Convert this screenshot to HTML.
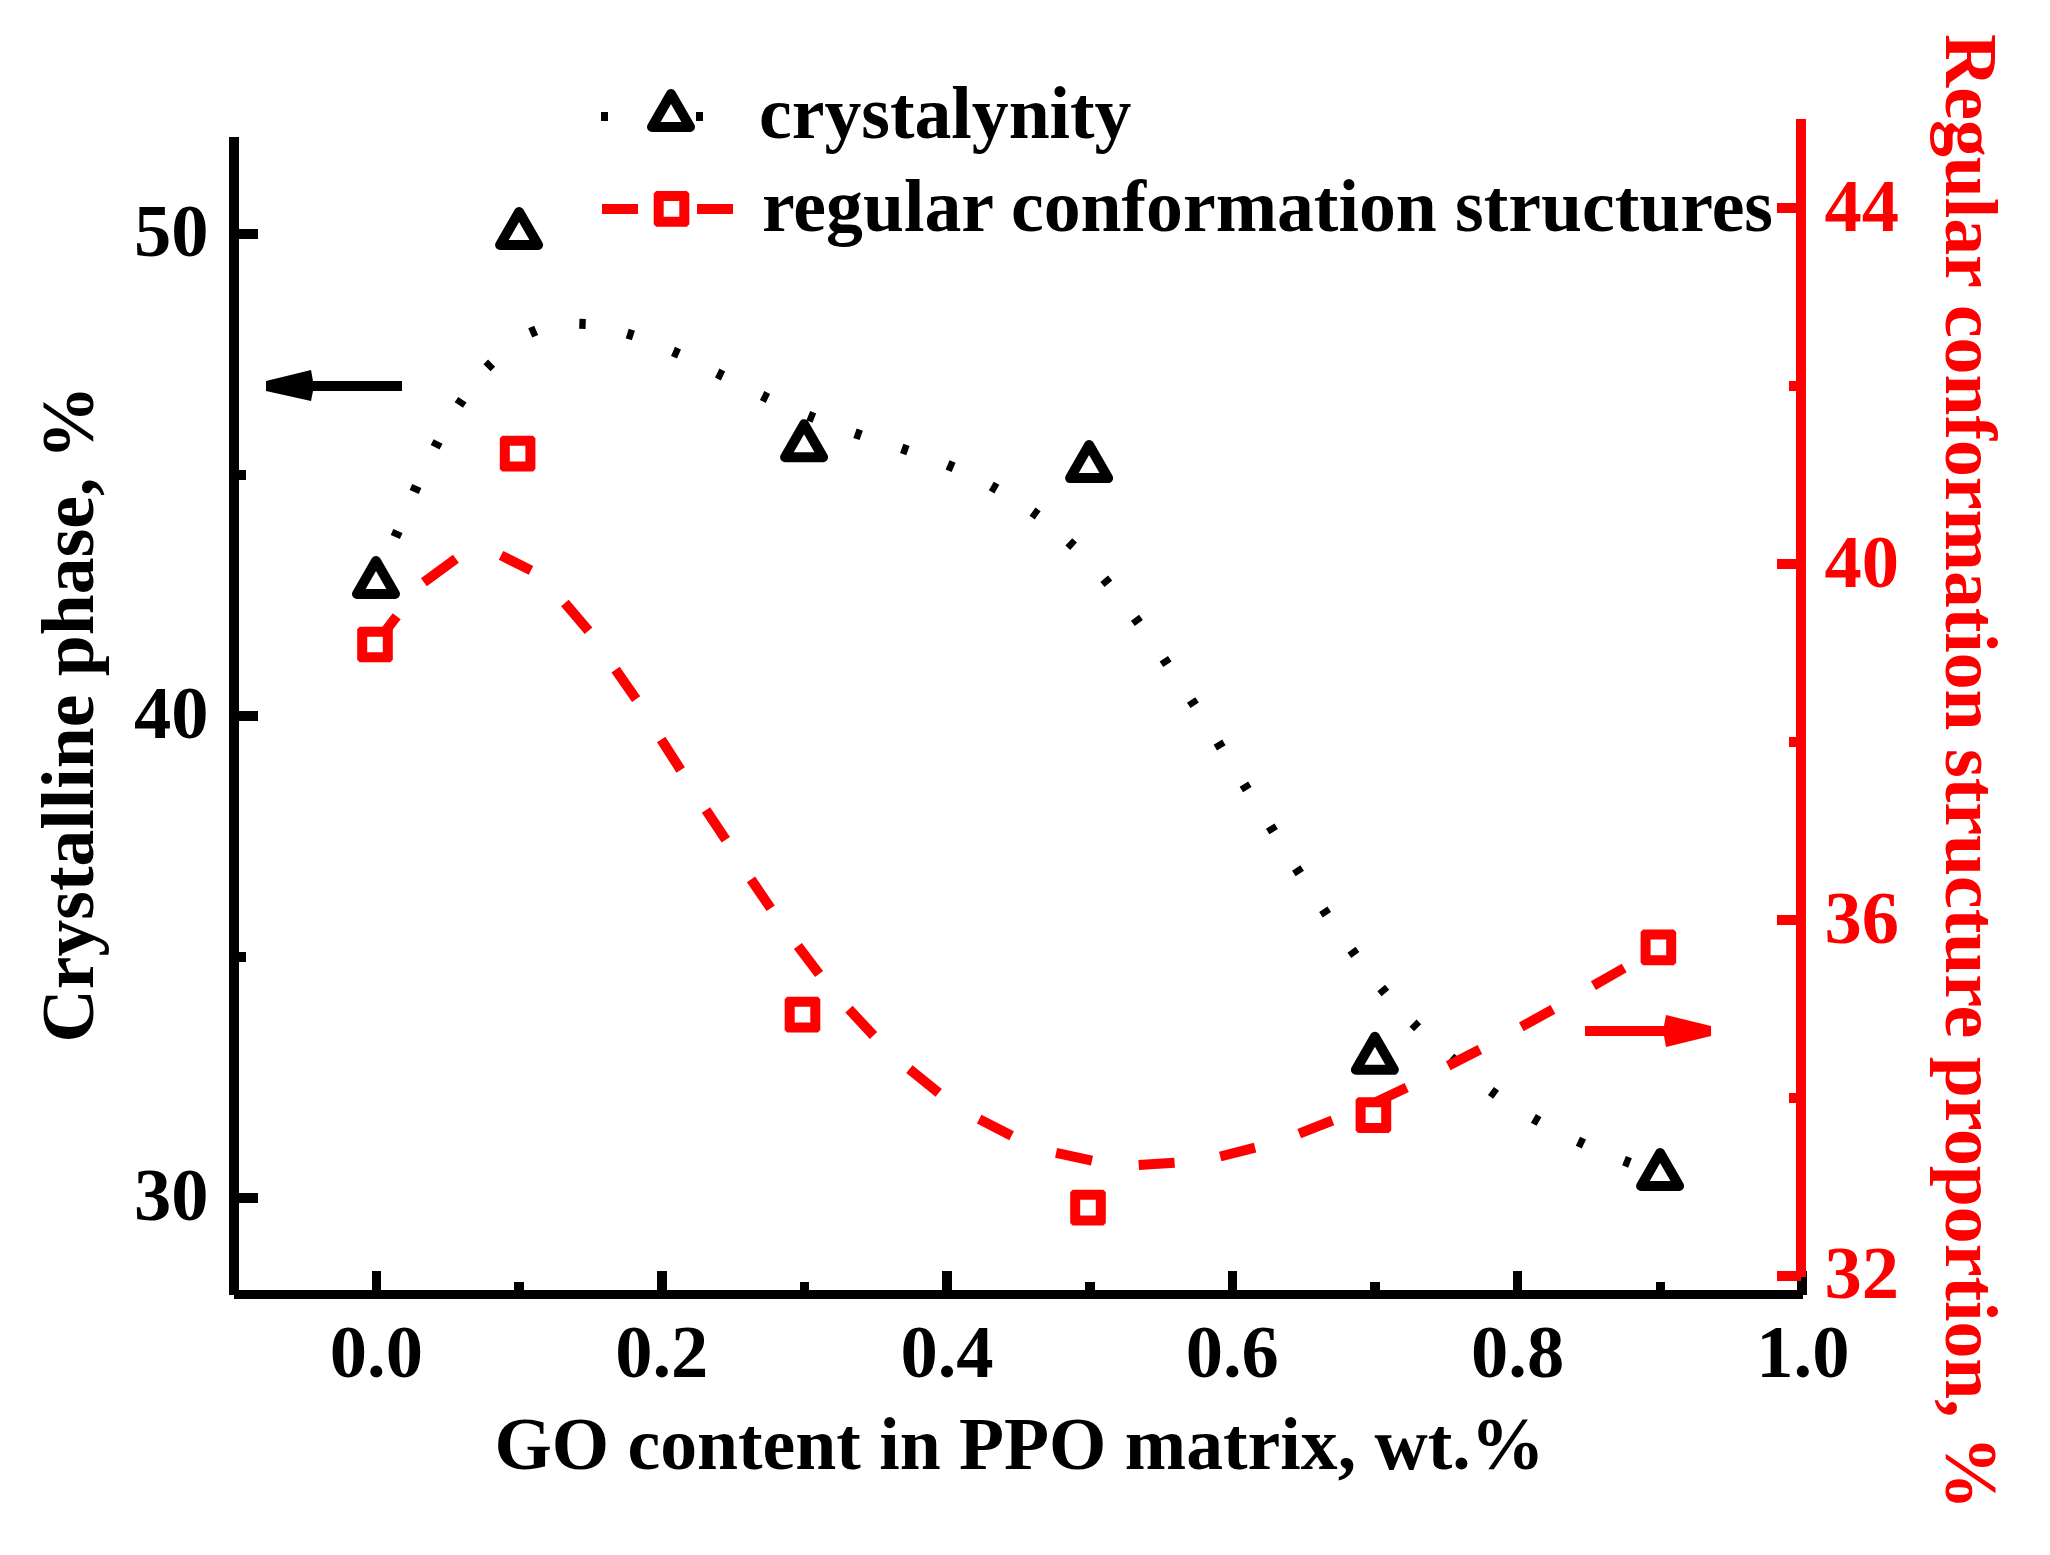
<!DOCTYPE html>
<html><head><meta charset="utf-8"><title>Crystalline phase and regular conformation structure proportion vs GO content</title>
<style>
html,body{margin:0;padding:0;background:#fff;}
svg{display:block}
text{font-family:"Liberation Serif","Times New Roman",serif;font-weight:bold;}
</style></head><body>
<svg width="2050" height="1555" viewBox="0 0 2050 1555">
<rect width="2050" height="1555" fill="#fff"/>
<path d="M395.3,537.1 L397.9,531.1 M414.2,491.9 L416.8,485.9 M435.1,447.3 L438.1,441.5 M458.8,405.1 L462.4,399.7 M487.0,367.7 L491.6,363.1 M530.2,332.9 L536.2,330.3 M579.3,323.7 L585.7,323.9 M627.2,333.5 L633.4,335.5 M673.0,351.4 L679.0,354.0 M717.2,373.1 L723.0,375.9 M762.1,395.6 L767.9,398.4 M808.3,415.7 L814.3,418.1 M855.0,433.2 L861.2,435.4 M901.7,448.4 L907.9,450.6 M947.6,464.8 L953.6,467.4 M991.3,486.0 L996.9,489.2 M1032.5,511.6 L1037.7,515.4 M1068.8,541.9 L1073.6,546.3 M1104.2,578.7 L1108.4,583.7 M1135.0,617.8 L1138.8,623.0 M1163.8,658.8 L1167.4,664.2 M1191.1,699.9 L1194.7,705.3 M1217.9,742.2 L1221.3,747.8 M1243.9,784.1 L1247.3,789.7 M1270.2,826.1 L1273.6,831.7 M1296.2,868.1 L1299.8,873.5 M1323.3,909.3 L1326.9,914.7 M1351.5,949.8 L1355.3,955.0 M1381.2,988.0 L1385.4,993.0 M1413.0,1023.1 L1417.6,1027.7 M1450.9,1057.5 L1455.9,1061.7 M1490.9,1091.0 L1496.1,1094.8 M1533.4,1118.3 L1539.0,1121.5 M1577.9,1141.2 L1583.9,1144.0 M1624.0,1160.6 L1630.0,1163.0" fill="none" stroke="#000" stroke-width="10"/>
<path d="M376.0,561.0 L395.0,594.0 L357.0,594.0 Z" fill="#fff" stroke="#000" stroke-width="10" stroke-linejoin="round"/>
<path d="M519.1,212.0 L538.1,245.0 L500.1,245.0 Z" fill="#fff" stroke="#000" stroke-width="10" stroke-linejoin="round"/>
<path d="M804.1,424.2 L823.1,457.2 L785.1,457.2 Z" fill="#fff" stroke="#000" stroke-width="10" stroke-linejoin="round"/>
<path d="M1089.1,445.1 L1108.1,478.1 L1070.1,478.1 Z" fill="#fff" stroke="#000" stroke-width="10" stroke-linejoin="round"/>
<path d="M1374.9,1036.8 L1393.9,1069.8 L1355.9,1069.8 Z" fill="#fff" stroke="#000" stroke-width="10" stroke-linejoin="round"/>
<path d="M1660.1,1153.0 L1679.1,1186.0 L1641.1,1186.0 Z" fill="#fff" stroke="#000" stroke-width="10" stroke-linejoin="round"/>
<path d="M375.0,644.5 L396.7,616.3 M423.9,582.3 L455.9,558.7 M501.0,555.4 L531.0,570.4 M564.9,602.9 L588.5,630.8 M615.6,669.6 L636.1,699.2 M661.2,739.5 L680.7,770.0 M706.0,810.0 L725.8,839.8 M751.0,879.4 L770.7,908.2 M797.9,945.9 L819.1,973.9 M849.0,1009.2 L873.5,1035.5 M909.4,1069.2 L938.7,1092.9 M979.2,1119.1 L1011.6,1135.8 M1056.1,1152.9 L1092.0,1160.6 M1138.7,1165.1 L1174.6,1162.7 M1220.2,1156.5 L1255.1,1147.7 M1299.2,1133.6 L1332.4,1120.5 M1374.1,1102.9 L1406.7,1087.5 M1448.2,1065.8 L1479.9,1049.5 M1521.4,1026.8 L1552.9,1009.4 M1593.4,985.6 L1624.2,968.0" fill="none" stroke="#f00" stroke-width="10"/>
<rect x="364.2" y="633.7" width="21.6" height="21.6" fill="#fff"/><path d="M359.7,626.7 L390.3,626.7 L392.8,629.2 L392.8,659.8 L390.3,662.3 L359.7,662.3 L357.2,659.8 L357.2,629.2 Z M367.2,636.7 L367.2,652.3 L382.8,652.3 L382.8,636.7 Z" fill="#f00" fill-rule="evenodd"/>
<rect x="506.8" y="442.8" width="21.6" height="21.6" fill="#fff"/><path d="M502.3,435.8 L532.9,435.8 L535.4,438.3 L535.4,468.9 L532.9,471.4 L502.3,471.4 L499.8,468.9 L499.8,438.3 Z M509.8,445.8 L509.8,461.4 L525.4,461.4 L525.4,445.8 Z" fill="#f00" fill-rule="evenodd"/>
<rect x="791.7" y="1003.8" width="21.6" height="21.6" fill="#fff"/><path d="M787.2,996.8 L817.8,996.8 L820.3,999.3 L820.3,1029.9 L817.8,1032.4 L787.2,1032.4 L784.7,1029.9 L784.7,999.3 Z M794.7,1006.8 L794.7,1022.4 L810.3,1022.4 L810.3,1006.8 Z" fill="#f00" fill-rule="evenodd"/>
<rect x="1077.2" y="1196.8" width="21.6" height="21.6" fill="#fff"/><path d="M1072.7,1189.8 L1103.3,1189.8 L1105.8,1192.3 L1105.8,1222.9 L1103.3,1225.4 L1072.7,1225.4 L1070.2,1222.9 L1070.2,1192.3 Z M1080.2,1199.8 L1080.2,1215.4 L1095.8,1215.4 L1095.8,1199.8 Z" fill="#f00" fill-rule="evenodd"/>
<rect x="1362.6" y="1104.3" width="21.6" height="21.6" fill="#fff"/><path d="M1358.1,1097.3 L1388.7,1097.3 L1391.2,1099.8 L1391.2,1130.4 L1388.7,1132.9 L1358.1,1132.9 L1355.6,1130.4 L1355.6,1099.8 Z M1365.6,1107.3 L1365.6,1122.9 L1381.2,1122.9 L1381.2,1107.3 Z" fill="#f00" fill-rule="evenodd"/>
<rect x="1647.6" y="936.6" width="21.6" height="21.6" fill="#fff"/><path d="M1643.1,929.6 L1673.7,929.6 L1676.2,932.1 L1676.2,962.7 L1673.7,965.2 L1643.1,965.2 L1640.6,962.7 L1640.6,932.1 Z M1650.6,939.6 L1650.6,955.2 L1666.2,955.2 L1666.2,939.6 Z" fill="#f00" fill-rule="evenodd"/>
<g shape-rendering="crispEdges">
<rect x="229" y="137" width="10" height="1158" fill="#000"/>
<rect x="234" y="1290" width="1569" height="9" fill="#000"/>
<rect x="234" y="228.8" width="24" height="10" fill="#000"/>
<rect x="234" y="710.8" width="24" height="10" fill="#000"/>
<rect x="234" y="1192.9" width="24" height="10" fill="#000"/>
<rect x="234" y="469.8" width="12" height="10" fill="#000"/>
<rect x="234" y="951.9" width="12" height="10" fill="#000"/>
<rect x="371.8" y="1271" width="9.4" height="24" fill="#000"/>
<rect x="514.4" y="1282" width="9.4" height="13" fill="#000"/>
<rect x="657.1" y="1271" width="9.4" height="24" fill="#000"/>
<rect x="799.7" y="1282" width="9.4" height="13" fill="#000"/>
<rect x="942.4" y="1271" width="9.4" height="24" fill="#000"/>
<rect x="1085.1" y="1282" width="9.4" height="13" fill="#000"/>
<rect x="1227.7" y="1271" width="9.4" height="24" fill="#000"/>
<rect x="1370.3" y="1282" width="9.4" height="13" fill="#000"/>
<rect x="1513.0" y="1271" width="9.4" height="24" fill="#000"/>
<rect x="1655.7" y="1282" width="9.4" height="13" fill="#000"/>
<rect x="1797.4" y="1271" width="9.4" height="24" fill="#000"/>
<rect x="1796" y="119" width="10" height="1158" fill="#f00"/>
<rect x="1777" y="202.9" width="24" height="10" fill="#f00"/>
<rect x="1777" y="558.9" width="24" height="10" fill="#f00"/>
<rect x="1777" y="915.0" width="24" height="10" fill="#f00"/>
<rect x="1777" y="1271.0" width="24" height="10" fill="#f00"/>
<rect x="1789" y="380.9" width="12" height="10" fill="#f00"/>
<rect x="1789" y="737.0" width="12" height="10" fill="#f00"/>
<rect x="1789" y="1093.0" width="12" height="10" fill="#f00"/>
</g>
<text x="208.5" y="256.1" font-size="74.5" text-anchor="end">50</text>
<text x="208.5" y="738.1" font-size="74.5" text-anchor="end">40</text>
<text x="208.5" y="1220.2" font-size="74.5" text-anchor="end">30</text>
<text x="376.4" y="1377" font-size="74.5" text-anchor="middle">0.0</text>
<text x="661.7" y="1377" font-size="74.5" text-anchor="middle">0.2</text>
<text x="947.0" y="1377" font-size="74.5" text-anchor="middle">0.4</text>
<text x="1232.3" y="1377" font-size="74.5" text-anchor="middle">0.6</text>
<text x="1517.6" y="1377" font-size="74.5" text-anchor="middle">0.8</text>
<text x="1802.9" y="1377" font-size="74.5" text-anchor="middle">1.0</text>
<text x="1824.6" y="230.9" font-size="74.5" fill="#f00">44</text>
<text x="1824.6" y="586.9" font-size="74.5" fill="#f00">40</text>
<text x="1824.6" y="943.0" font-size="74.5" fill="#f00">36</text>
<text x="1824.6" y="1298.2" font-size="74.5" fill="#f00">32</text>
<text x="1019.4" y="1468.5" font-size="73.7" text-anchor="middle">GO content in PPO matrix, wt.%</text>
<text transform="translate(92.6,714) rotate(-90)" font-size="73.7" text-anchor="middle">Crystalline phase, %</text>
<text transform="translate(1945.9,771.9) rotate(90)" font-size="73.7" text-anchor="middle" fill="#f00">Regular conformation structure proportion, %</text>
<g shape-rendering="crispEdges"><rect x="601" y="112" width="7" height="9" fill="#000"/><rect x="696" y="112" width="7" height="9" fill="#000"/>
<rect x="602" y="204" width="36" height="10" fill="#f00"/><rect x="697" y="204" width="36" height="10" fill="#f00"/></g>
<path d="M671.0,94.0 L690.0,127.0 L652.0,127.0 Z" fill="#fff" stroke="#000" stroke-width="10" stroke-linejoin="round"/>
<rect x="660.7" y="198.1" width="21.6" height="21.6" fill="#fff"/><path d="M656.2,191.1 L686.8,191.1 L689.3,193.6 L689.3,224.2 L686.8,226.7 L656.2,226.7 L653.7,224.2 L653.7,193.6 Z M663.7,201.1 L663.7,216.7 L679.3,216.7 L679.3,201.1 Z" fill="#f00" fill-rule="evenodd"/>
<text x="759" y="138.4" font-size="73.7">crystalynity</text>
<text x="762" y="231" font-size="73.7">regular conformation structures</text>
<path d="M266,381 L311,370 L313,381 L402,381 L402,391 L313,391 L311,401 L266,391 Z" fill="#000"/>
<path d="M1585,1026 L1664,1026 L1666,1015 L1711,1026 L1711,1036 L1666,1047 L1664,1036 L1585,1036 Z" fill="#f00"/>
</svg></body></html>
